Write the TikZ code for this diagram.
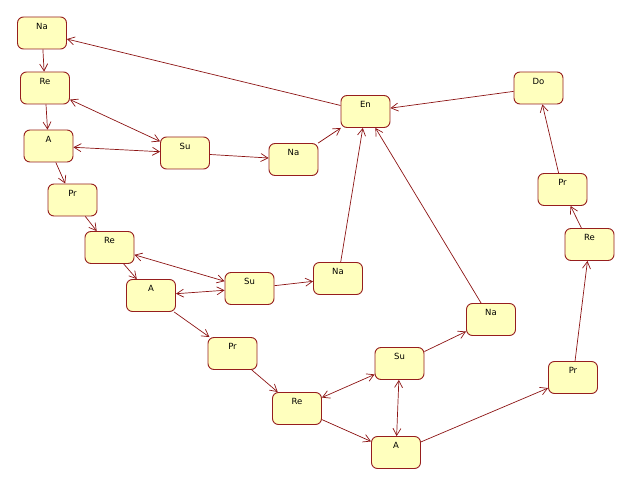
\documentclass[tikz,border=0pt]{standalone}
\usepackage{fontspec}
\setmainfont{DejaVu Sans}
\usetikzlibrary{arrows.meta}
\definecolor{edgecol}{RGB}{140,20,20}
\definecolor{boxfill}{RGB}{255,255,190}
\definecolor{boxline}{RGB}{150,30,30}
\begin{document}
\begin{tikzpicture}[x=1pt,y=-1pt,
  state/.style={draw=boxline,fill=boxfill,line width=0.9pt,rounded corners=6pt,
    minimum width=49pt,minimum height=32pt,inner xsep=2pt,inner ysep=0pt,
    text height=12.3pt,text depth=19.7pt,font=\fontsize{8.5}{10}\selectfont,anchor=center},
  conn/.style={draw=edgecol,line width=0.7pt,-{Straight Barb[length=7pt,width=8pt]}},
  biconn/.style={draw=edgecol,line width=0.7pt,{Straight Barb[length=7pt,width=8pt]}-{Straight Barb[length=7pt,width=8pt]}}]
\useasboundingbox (0,0) rectangle (633,487);
\node[state] (na1) at (42,33) {Na};
\node[state] (re1) at (45,88) {Re};
\node[state] (a1) at (48.5,146) {A};
\node[state] (su1) at (185,153) {Su};
\node[state] (pr1) at (72.5,200) {Pr};
\node[state] (na2) at (293.5,159.5) {Na};
\node[state] (en) at (365.5,111.5) {En};
\node[state] (do) at (538.5,88) {Do};
\node[state] (prr) at (562.5,189.5) {Pr};
\node[state] (rer) at (589.5,244.5) {Re};
\node[state] (re2) at (109.5,247.5) {Re};
\node[state] (a2) at (151,295.5) {A};
\node[state] (su2) at (249.5,288.5) {Su};
\node[state] (na3) at (338,278.5) {Na};
\node[state] (pr2) at (232.5,353.5) {Pr};
\node[state] (na4) at (491,319.5) {Na};
\node[state] (su3) at (399.5,363.5) {Su};
\node[state] (re3) at (297,408.5) {Re};
\node[state] (a3) at (396,452.5) {A};
\node[state] (prb) at (573,377.5) {Pr};
\draw[conn] (na1) -- (re1);
\draw[conn] (en) -- (na1);
\draw[biconn] (re1) -- (su1);
\draw[conn] (re1) -- (a1);
\draw[biconn] (a1) -- (su1);
\draw[conn] (a1) -- (pr1);
\draw[conn] (su1) -- (na2);
\draw[conn] (na2) -- (en);
\draw[conn] (do) -- (en);
\draw[conn] (prr) -- (do);
\draw[conn] (rer) -- (prr);
\draw[conn] (prb) -- (rer);
\draw[conn] (pr1) -- (re2);
\draw[biconn] (re2) -- (su2);
\draw[conn] (re2) -- (a2);
\draw[biconn] (a2) -- (su2);
\draw[conn] (su2) -- (na3);
\draw[conn] (na3) -- (en);
\draw[conn] (na4) -- (en);
\draw[conn] (a2) -- (pr2);
\draw[conn] (pr2) -- (re3);
\draw[biconn] (re3) -- (su3);
\draw[conn] (re3) -- (a3);
\draw[biconn] (su3) -- (a3);
\draw[conn] (su3) -- (na4);
\draw[conn] (a3) -- (prb);
\end{tikzpicture}
\end{document}
